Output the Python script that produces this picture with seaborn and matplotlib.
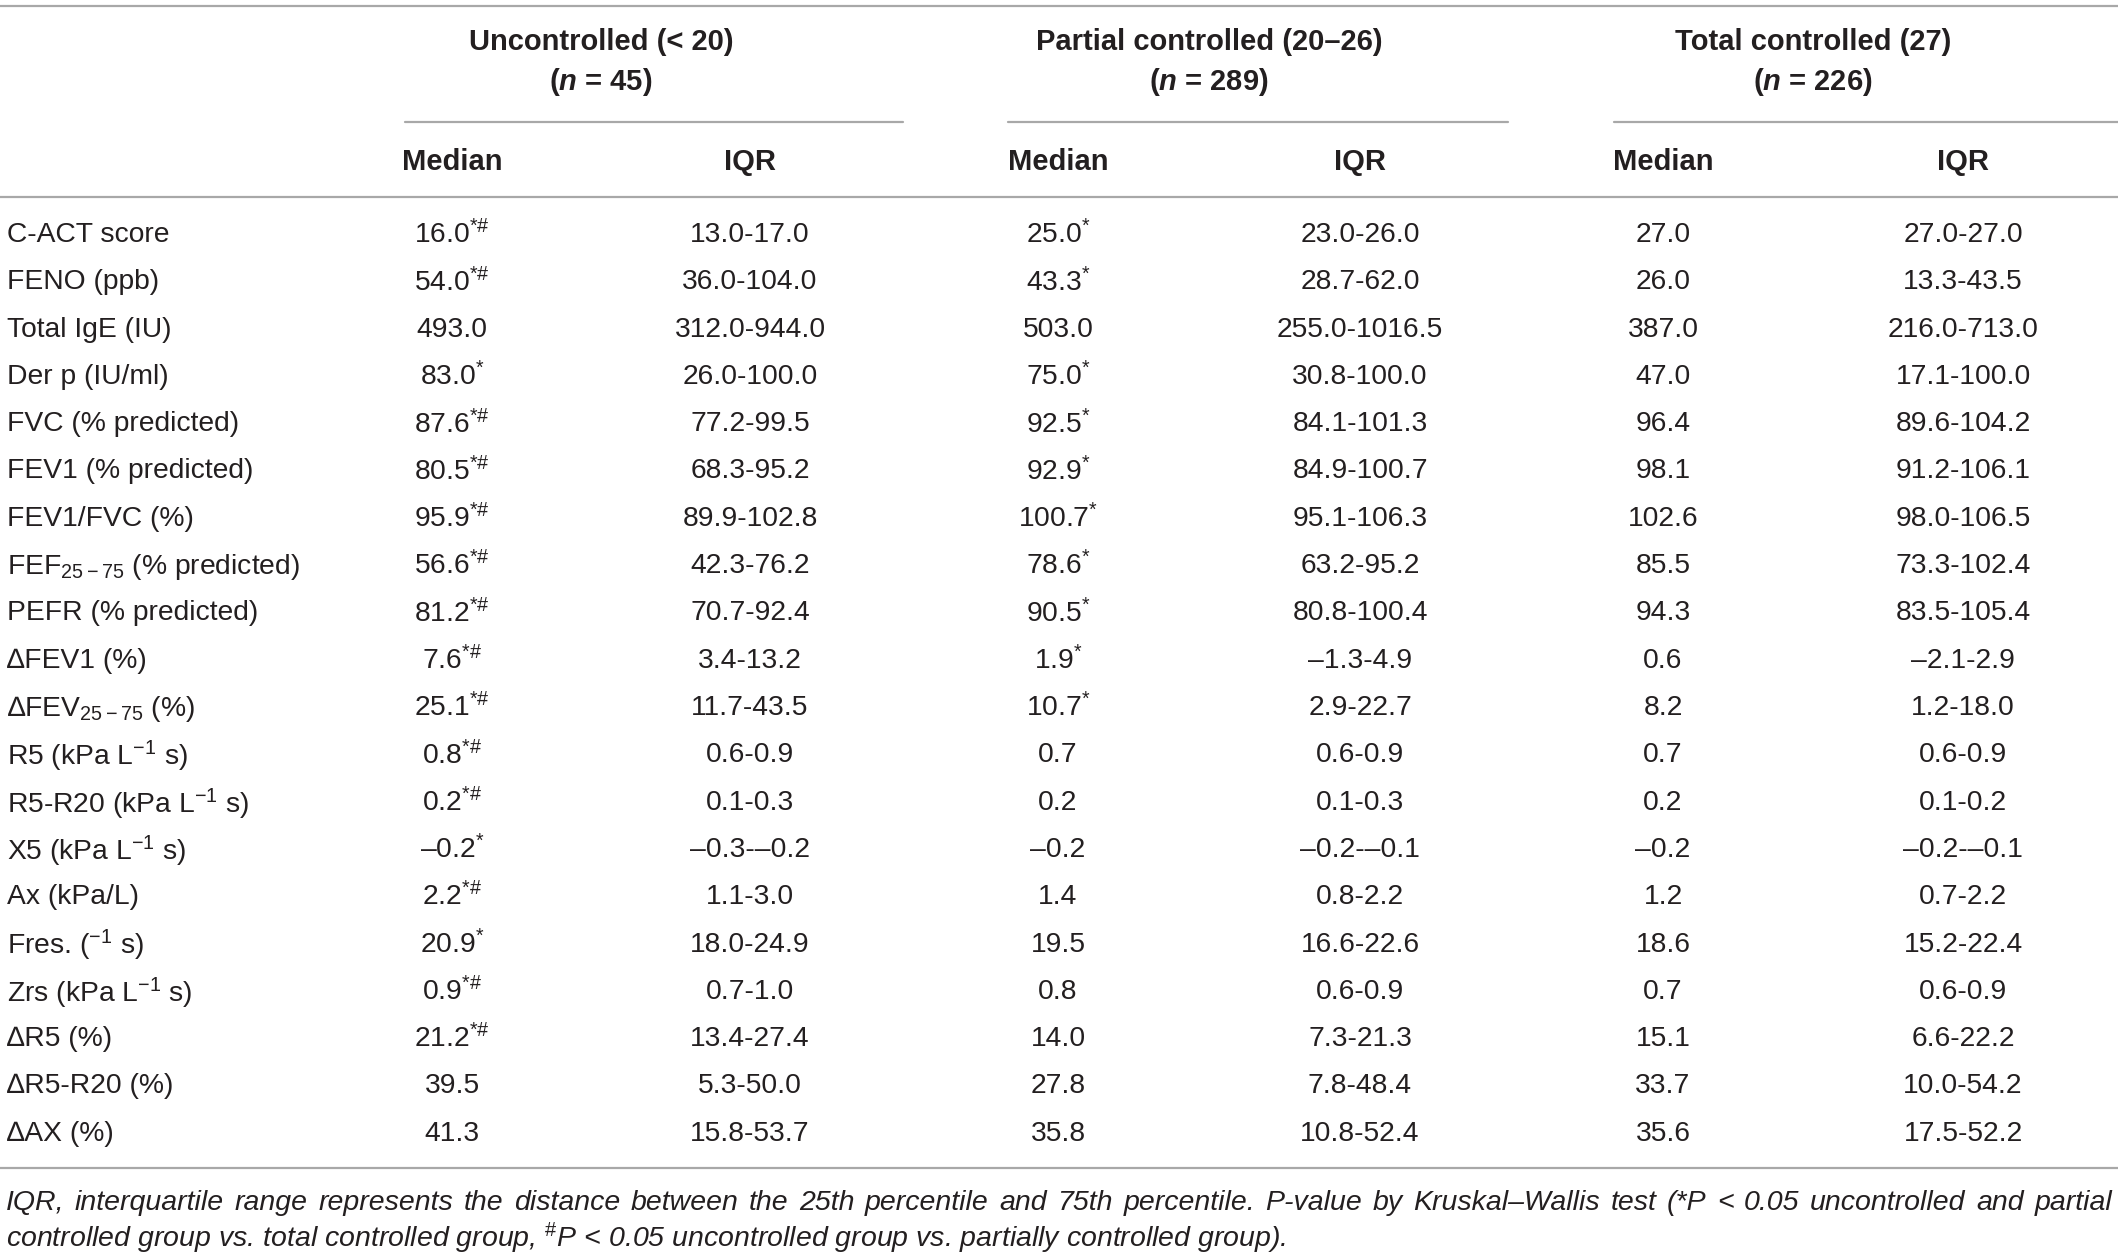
import matplotlib
matplotlib.use("Agg")
import matplotlib.pyplot as plt
import seaborn as sns
import pandas as pd

# dane tabeli
groups = ["Uncontrolled (< 20)", "Partial controlled (20–26)", "Total controlled (27)"]
group_n = ["45", "289", "226"]

labels = ["C-ACT score", "FENO (ppb)", "Total IgE (IU)", "Der p (IU/ml)",
          "FVC (% predicted)", "FEV1 (% predicted)", "FEV1/FVC (%)",
          "FEF$_{25-75}$ (% predicted)", "PEFR (% predicted)", "∆FEV1 (%)",
          "∆FEV$_{25-75}$ (%)", "R5 (kPa L$^{-1}$ s)", "R5-R20 (kPa L$^{-1}$ s)",
          "X5 (kPa L$^{-1}$ s)", "Ax (kPa/L)", "Fres. (${}^{-1}$ s)",
          "Zrs (kPa L$^{-1}$ s)", "∆R5 (%)", "∆R5-R20 (%)", "∆AX (%)"]

unc_med = ["16.0", "54.0", "493.0", "83.0", "87.6", "80.5", "95.9", "56.6", "81.2", "7.6",
           "25.1", "0.8", "0.2", "–0.2", "2.2", "20.9", "0.9", "21.2", "39.5", "41.3"]
unc_sig = ["*#", "*#", "", "*", "*#", "*#", "*#", "*#", "*#", "*#",
           "*#", "*#", "*#", "*", "*#", "*", "*#", "*#", "", ""]
unc_iqr = ["13.0-17.0", "36.0-104.0", "312.0-944.0", "26.0-100.0", "77.2-99.5", "68.3-95.2",
           "89.9-102.8", "42.3-76.2", "70.7-92.4", "3.4-13.2", "11.7-43.5", "0.6-0.9",
           "0.1-0.3", "–0.3-–0.2", "1.1-3.0", "18.0-24.9", "0.7-1.0", "13.4-27.4",
           "5.3-50.0", "15.8-53.7"]

par_med = ["25.0", "43.3", "503.0", "75.0", "92.5", "92.9", "100.7", "78.6", "90.5", "1.9",
           "10.7", "0.7", "0.2", "–0.2", "1.4", "19.5", "0.8", "14.0", "27.8", "35.8"]
par_sig = ["*", "*", "", "*", "*", "*", "*", "*", "*", "*",
           "*", "", "", "", "", "", "", "", "", ""]
par_iqr = ["23.0-26.0", "28.7-62.0", "255.0-1016.5", "30.8-100.0", "84.1-101.3", "84.9-100.7",
           "95.1-106.3", "63.2-95.2", "80.8-100.4", "–1.3-4.9", "2.9-22.7", "0.6-0.9",
           "0.1-0.3", "–0.2-–0.1", "0.8-2.2", "16.6-22.6", "0.6-0.9", "7.3-21.3",
           "7.8-48.4", "10.8-52.4"]

tot_med = ["27.0", "26.0", "387.0", "47.0", "96.4", "98.1", "102.6", "85.5", "94.3", "0.6",
           "8.2", "0.7", "0.2", "–0.2", "1.2", "18.6", "0.7", "15.1", "33.7", "35.6"]
tot_sig = [""] * 20
tot_iqr = ["27.0-27.0", "13.3-43.5", "216.0-713.0", "17.1-100.0", "89.6-104.2", "91.2-106.1",
           "98.0-106.5", "73.3-102.4", "83.5-105.4", "–2.1-2.9", "1.2-18.0", "0.6-0.9",
           "0.1-0.2", "–0.2-–0.1", "0.7-2.2", "15.2-22.4", "0.6-0.9", "6.6-22.2",
           "10.0-54.2", "17.5-52.2"]

footnote1 = ("IQR, interquartile range represents the distance between the 25th percentile and "
             "75th percentile. P-value by Kruskal–Wallis test (*P < 0.05 uncontrolled and partial")
footnote2 = ("controlled group vs. total controlled group, $^{\\#}$P < 0.05 uncontrolled group "
             "vs. partially controlled group).")


def with_sig(value, sig):
    if not sig:
        return value
    return value + "$^{" + sig.replace("#", "\\#") + "}$"


table = pd.DataFrame({
    "label": labels,
    "unc_med": [with_sig(v, s) for v, s in zip(unc_med, unc_sig)],
    "unc_iqr": unc_iqr,
    "par_med": [with_sig(v, s) for v, s in zip(par_med, par_sig)],
    "par_iqr": par_iqr,
    "tot_med": [with_sig(v, s) for v, s in zip(tot_med, tot_sig)],
    "tot_iqr": tot_iqr,
})

# styl
sns.set_theme(style="white")
plt.rcParams["font.family"] = ["Liberation Sans", "DejaVu Sans"]
plt.rcParams["mathtext.fontset"] = "custom"
plt.rcParams["mathtext.rm"] = "Liberation Sans"
plt.rcParams["mathtext.it"] = "Liberation Sans:bold:italic"
plt.rcParams["mathtext.bf"] = "Liberation Sans:bold"

TXT = "#231f20"
LINE = "#a8a8a8"
FS = 20.3      # treść tabeli
FS_HEAD = 21   # nagłówki
FS_NOTE = 20.5 # przypis

W, H = 2118, 1254
fig = plt.figure(figsize=(W / 100, H / 100), dpi=100)
ax = fig.add_axes([0, 0, 1, 1])
ax.set_xlim(0, W)
ax.set_ylim(H, 0)
ax.axis("off")

# kolumny
col_x = {"unc_med": 452, "unc_iqr": 750, "par_med": 1058, "par_iqr": 1360,
         "tot_med": 1663, "tot_iqr": 1963}
group_cols = [("unc_med", "unc_iqr"), ("par_med", "par_iqr"), ("tot_med", "tot_iqr")]
under_spans = [(405, 903), (1008, 1508), (1614, 2118)]

# linie poziome
lw = 1.6
ax.plot([0, W], [6, 6], color=LINE, lw=lw)
ax.plot([0, W], [197, 197], color=LINE, lw=lw)
ax.plot([0, W], [1168, 1168], color=LINE, lw=lw)
for x0, x1 in under_spans:
    ax.plot([x0, x1], [122, 122], color=LINE, lw=lw)

# nagłówki
for (cm, ci), g, n in zip(group_cols, groups, group_n):
    cx = (col_x[cm] + col_x[ci]) / 2
    ax.text(cx, 42, g, ha="center", va="center", fontsize=FS_HEAD, fontweight="bold", color=TXT)
    ax.text(cx, 82, "($\\mathit{n}$ = " + n + ")", ha="center", va="center",
            fontsize=FS_HEAD, fontweight="bold", color=TXT)
    ax.text(col_x[cm], 162, "Median", ha="center", va="center", fontsize=FS_HEAD,
            fontweight="bold", color=TXT)
    ax.text(col_x[ci], 162, "IQR", ha="center", va="center", fontsize=FS_HEAD,
            fontweight="bold", color=TXT)

# wiersze
y0, dy = 232, 47.3
for i, row in table.iterrows():
    y = y0 + i * dy
    ax.text(7, y, row["label"], ha="left", va="center_baseline", fontsize=FS, color=TXT)
    for key, x in col_x.items():
        ax.text(x, y, row[key], ha="center", va="center_baseline", fontsize=FS, color=TXT)

# przypis - pierwsza linia wyjustowana
renderer = fig.canvas.get_renderer()
words = footnote1.split(" ")
artists = [ax.text(0, 1200, w, ha="left", va="center_baseline", fontsize=FS_NOTE,
                   style="italic", color=TXT) for w in words]
widths = [a.get_window_extent(renderer).width for a in artists]
left, right = 6, W - 6
gap = (right - left - sum(widths)) / (len(words) - 1)
x = left
for a, w in zip(artists, widths):
    a.set_x(x)
    x += w + gap
ax.text(left, 1234, footnote2, ha="left", va="center_baseline", fontsize=FS_NOTE,
        style="italic", color=TXT)

fig.savefig("out.png", dpi=100)
